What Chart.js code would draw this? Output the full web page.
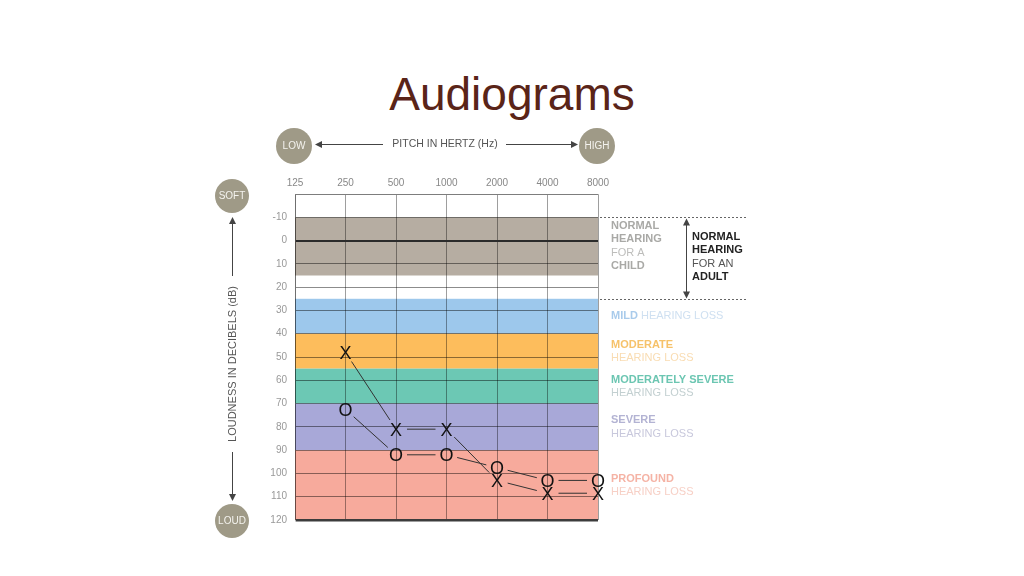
<!DOCTYPE html>
<html>
<head>
<meta charset="utf-8">
<title>Audiograms</title>
<script src="https://cdn.jsdelivr.net/npm/chart.js@4.4.1/dist/chart.umd.min.js"></script>
<style>
  body { margin: 0; background: #fff; }
  #wrap { position: relative; width: 1024px; height: 576px; }
  #title { position: absolute; top: 71px; left: 0; width: 1024px; text-align: center;
    font: 46px "Liberation Sans", Arial, sans-serif; line-height: 46px; color: #5a2418; }
  canvas { position: absolute; top: 0; left: 0; }
</style>
</head>
<body>
<div id="wrap">
  <div id="title">Audiograms</div>
  <canvas id="audiogram" width="1024" height="576"></canvas>
</div>
<script>
const frequencies = ['125', '250', '500', '1000', '2000', '4000', '8000'];
const leftEar  = [null, 48, 81, 81, 103, 108.5, 108.5];   // X
const rightEar = [null, 72.5, 92, 92, 97.5, 103, 103];    // O

// hearing bands (dB)
const bandFrom  = [-10, 25, 40, 55, 70, 90];
const bandTo    = [15, 40, 55, 70, 90, 120];
const bandNames = [null, 'MILD', 'MODERATE', 'MODERATELY SEVERE', 'SEVERE', 'PROFOUND'];

const bandColors     = ['#b6ada2', '#9dc8ec', '#fdbd5c', '#6cc8b4', '#a8a8d8', '#f7aa9c'];
const bandNameColors = [null, '#a9cbeb', '#f6c26a', '#6cc6b2', '#b3b3d3', '#f5b3a5'];
const bandSubColors  = [null, '#cfe0f1', '#f9dcb2', '#c3d0d1', '#c8c8dc', '#f7d0c6'];

const FONT = '"Liberation Sans", Arial, sans-serif';

const bandsPlugin = {
  id: 'bands',
  beforeDraw(chart) {
    const {ctx, chartArea: a, scales: {y}} = chart;
    ctx.save();
    bandFrom.forEach((from, i) => {
      const top = y.getPixelForValue(from);
      const bottom = y.getPixelForValue(bandTo[i]);
      ctx.fillStyle = bandColors[i];
      ctx.fillRect(a.left, top, a.right - a.left, bottom - top);
    });
    ctx.restore();
  }
};

const markerPlugin = {
  id: 'markers',
  afterDatasetsDraw(chart) {
    const ctx = chart.ctx;
    chart.data.datasets.forEach((ds, di) => {
      const pts = chart.getDatasetMeta(di).data.filter((p, i) => ds.data[i] != null);
      ctx.save();
      ctx.strokeStyle = '#333';
      ctx.lineWidth = 1;
      for (let i = 1; i < pts.length; i++) {
        const p = pts[i - 1], q = pts[i];
        const dx = q.x - p.x, dy = q.y - p.y;
        const g = 11 / Math.hypot(dx, dy);
        ctx.beginPath();
        ctx.moveTo(p.x + dx * g, p.y + dy * g);
        ctx.lineTo(q.x - dx * g, q.y - dy * g);
        ctx.stroke();
      }
      ctx.fillStyle = '#111';
      ctx.font = '18px ' + FONT;
      ctx.textAlign = 'center';
      ctx.textBaseline = 'alphabetic';
      pts.forEach(p => ctx.fillText(ds.marker, p.x, p.y + 6.5));
      ctx.restore();
    });
  }
};

function arrowHead(ctx, x, y, dir) {
  // dir: 'left' | 'right' | 'up' | 'down'
  const s = 3.5, l = 7;
  ctx.beginPath();
  if (dir === 'left')  { ctx.moveTo(x, y); ctx.lineTo(x + l, y - s); ctx.lineTo(x + l, y + s); }
  if (dir === 'right') { ctx.moveTo(x, y); ctx.lineTo(x - l, y - s); ctx.lineTo(x - l, y + s); }
  if (dir === 'up')    { ctx.moveTo(x, y); ctx.lineTo(x - s, y + l); ctx.lineTo(x + s, y + l); }
  if (dir === 'down')  { ctx.moveTo(x, y); ctx.lineTo(x - s, y - l); ctx.lineTo(x + s, y - l); }
  ctx.closePath();
  ctx.fill();
}

function line(ctx, x1, y1, x2, y2) {
  ctx.beginPath();
  ctx.moveTo(x1, y1);
  ctx.lineTo(x2, y2);
  ctx.stroke();
}

const framePlugin = {
  id: 'frame',
  afterDraw(chart) {
    const {ctx, chartArea: a, scales: {y}} = chart;
    ctx.save();

    // round badges
    const badge = (cx, cy, r, t) => {
      ctx.fillStyle = '#9f9a87';
      ctx.beginPath();
      ctx.arc(cx, cy, r, 0, Math.PI * 2);
      ctx.fill();
      ctx.fillStyle = '#f4f3ee';
      ctx.font = '10px ' + FONT;
      ctx.textAlign = 'center';
      ctx.textBaseline = 'middle';
      ctx.fillText(t, cx, cy);
    };
    badge(a.left - 1, 146, 18, 'LOW');
    badge(a.right - 1, 146, 18, 'HIGH');
    badge(a.left - 63, 196, 17, 'SOFT');
    badge(a.left - 63, 521, 17, 'LOUD');

    // pitch arrow
    ctx.strokeStyle = '#444';
    ctx.fillStyle = '#444';
    ctx.lineWidth = 1;
    line(ctx, 383, 144.5, 318, 144.5);
    arrowHead(ctx, 315, 144.5, 'left');
    line(ctx, 506, 144.5, 574, 144.5);
    arrowHead(ctx, 578, 144.5, 'right');
    ctx.fillStyle = '#555';
    ctx.font = '10.5px ' + FONT;
    ctx.textAlign = 'center';
    ctx.textBaseline = 'middle';
    ctx.fillText('PITCH IN HERTZ (Hz)', 445, 144);

    // loudness arrow
    const lx = a.left - 62.5;
    ctx.fillStyle = '#444';
    line(ctx, lx, 222, lx, 276);
    arrowHead(ctx, lx, 217, 'up');
    line(ctx, lx, 452, lx, 496);
    arrowHead(ctx, lx, 501, 'down');
    ctx.save();
    ctx.translate(lx, 364);
    ctx.rotate(-Math.PI / 2);
    ctx.fillStyle = '#555';
    ctx.font = '11px ' + FONT;
    ctx.fillText('LOUDNESS IN DECIBELS (dB)', 0, 0);
    ctx.restore();

    // normal hearing brackets
    const yTop = Math.round(y.getPixelForValue(-10)) + 0.5;
    const yMid = Math.round(y.getPixelForValue(bandFrom[1])) + 0.5;
    ctx.strokeStyle = '#666';
    ctx.setLineDash([2, 2]);
    line(ctx, a.right + 2, yTop, a.right + 148, yTop);
    line(ctx, a.right + 2, yMid, a.right + 148, yMid);
    ctx.setLineDash([]);
    ctx.strokeStyle = '#444';
    ctx.fillStyle = '#444';
    line(ctx, 686.5, yTop + 6, 686.5, yMid - 6);
    arrowHead(ctx, 686.5, yTop + 1, 'up');
    arrowHead(ctx, 686.5, yMid - 1, 'down');

    ctx.textAlign = 'left';
    ctx.textBaseline = 'middle';
    const bold = 'bold 11px ' + FONT, reg = '11px ' + FONT;
    const child = [['NORMAL', bold], ['HEARING', bold], ['FOR A', reg], ['CHILD', bold]];
    child.forEach(([t, f], i) => {
      ctx.font = f;
      ctx.fillStyle = f === bold ? '#a9a9a6' : '#bdbdbb';
      ctx.fillText(t, a.right + 13, 226 + i * 13.3);
    });
    const adult = [['NORMAL', bold], ['HEARING', bold], ['FOR AN', reg], ['ADULT', bold]];
    adult.forEach(([t, f], i) => {
      ctx.font = f;
      ctx.fillStyle = f === bold ? '#222' : '#555';
      ctx.fillText(t, 692, 237 + i * 13.3);
    });

    // band labels
    bandNames.forEach((name, i) => {
      if (!name) return;
      const cy = (y.getPixelForValue(bandFrom[i]) + y.getPixelForValue(bandTo[i])) / 2;
      const x0 = a.right + 13;
      if (i === 1) {
        ctx.font = bold;
        ctx.fillStyle = bandNameColors[i];
        ctx.fillText(name, x0, cy);
        const w = ctx.measureText(name + ' ').width;
        ctx.font = reg;
        ctx.fillStyle = bandSubColors[i];
        ctx.fillText('HEARING LOSS', x0 + w, cy);
      } else {
        ctx.font = bold;
        ctx.fillStyle = bandNameColors[i];
        ctx.fillText(name, x0, cy - 6.5);
        ctx.font = reg;
        ctx.fillStyle = bandSubColors[i];
        ctx.fillText('HEARING LOSS', x0, cy + 6.8);
      }
    });
    ctx.restore();
  }
};

const chart = new Chart(document.getElementById('audiogram'), {
  type: 'line',
  data: {
    labels: frequencies,
    datasets: [
      { label: 'Left ear', marker: 'X', data: leftEar, showLine: false, pointRadius: 0, pointHitRadius: 0 },
      { label: 'Right ear', marker: 'O', data: rightEar, showLine: false, pointRadius: 0, pointHitRadius: 0 }
    ]
  },
  options: {
    responsive: false,
    animation: false,
    layout: { padding: { left: 265, right: 426, top: 174, bottom: 56 } },
    plugins: { legend: { display: false }, tooltip: { enabled: false } },
    scales: {
      x: {
        type: 'category',
        position: 'top',
        offset: false,
        afterFit: s => { s.height = 20; },
        grid: { offset: false, drawTicks: false, color: 'rgba(0,0,0,0.38)' },
        border: { color: 'rgba(0,0,0,0.3)' },
        ticks: { color: '#888', padding: 5, font: { size: 10, family: FONT }, maxRotation: 0, autoSkip: false }
      },
      y: {
        reverse: true,
        min: -20,
        max: 120,
        afterFit: s => { s.width = 30; },
        grid: {
          drawTicks: false,
          color: c => c.tick.value === 0 ? '#2b2b2b' : c.tick.value === 120 ? '#3c3c3c' : c.tick.value === -20 ? 'rgba(0,0,0,0.3)' : 'rgba(0,0,0,0.45)',
          lineWidth: c => c.tick.value === 0 ? 2 : c.tick.value === 120 ? 2.5 : 1
        },
        border: { color: 'rgba(0,0,0,0.3)' },
        ticks: {
          stepSize: 10,
          color: '#999',
          padding: 8,
          font: { size: 10, family: FONT },
          callback: v => v === -20 ? '' : v
        }
      }
    }
  },
  plugins: [bandsPlugin, markerPlugin, framePlugin]
});
</script>
</body>
</html>
